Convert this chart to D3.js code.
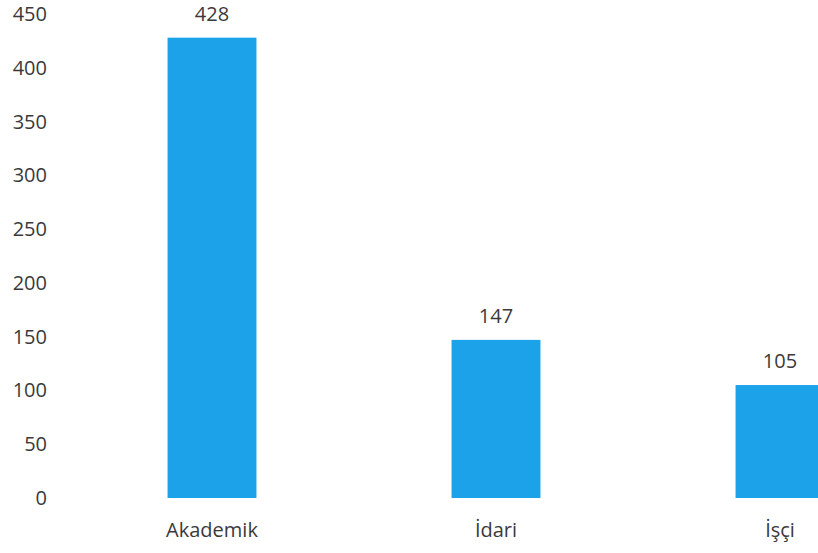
<!DOCTYPE html>
<html><head><meta charset="utf-8">
<script src="https://cdn.jsdelivr.net/npm/d3@7"></script>
<style>body{margin:0;background:#fff}svg{display:block}text{font-family:"Open Sans",sans-serif;fill:#3a3a3a}</style>
</head><body>
<svg id="c" width="818" height="553"></svg>
<script>
const categories = ["Akademik", "İdari", "İşçi"];
const values = [428, 147, 105];
const yTicks = [0, 50, 100, 150, 200, 250, 300, 350, 400, 450];

const svg = d3.select("#c");
const y = d3.scaleLinear().domain([0, 450]).range([498, 14]);
const x = d3.scaleBand().domain(categories).range([70, 922]).paddingInner(0.687).paddingOuter(0.3435);
const fs = 20;

svg.append("g").selectAll("text").data(yTicks).join("text")
  .attr("x", 47).attr("y", d => y(d)).attr("dy", "0.35em")
  .attr("text-anchor", "end").attr("font-size", fs).text(d => d);

svg.append("g").selectAll("rect").data(values).join("rect")
  .attr("x", (d, i) => x(categories[i])).attr("width", x.bandwidth())
  .attr("y", d => y(d)).attr("height", d => y(0) - y(d))
  .attr("fill", "#1ba2e8");

svg.append("g").selectAll("text").data(values).join("text")
  .attr("x", (d, i) => x(categories[i]) + x.bandwidth() / 2)
  .attr("y", d => y(d) - 17).attr("text-anchor", "middle")
  .attr("font-size", fs).text(d => d);

svg.append("g").selectAll("text").data(categories).join("text")
  .attr("x", d => x(d) + x.bandwidth() / 2).attr("y", 537)
  .attr("text-anchor", "middle").attr("font-size", fs).text(d => d);
</script>
</body></html>
